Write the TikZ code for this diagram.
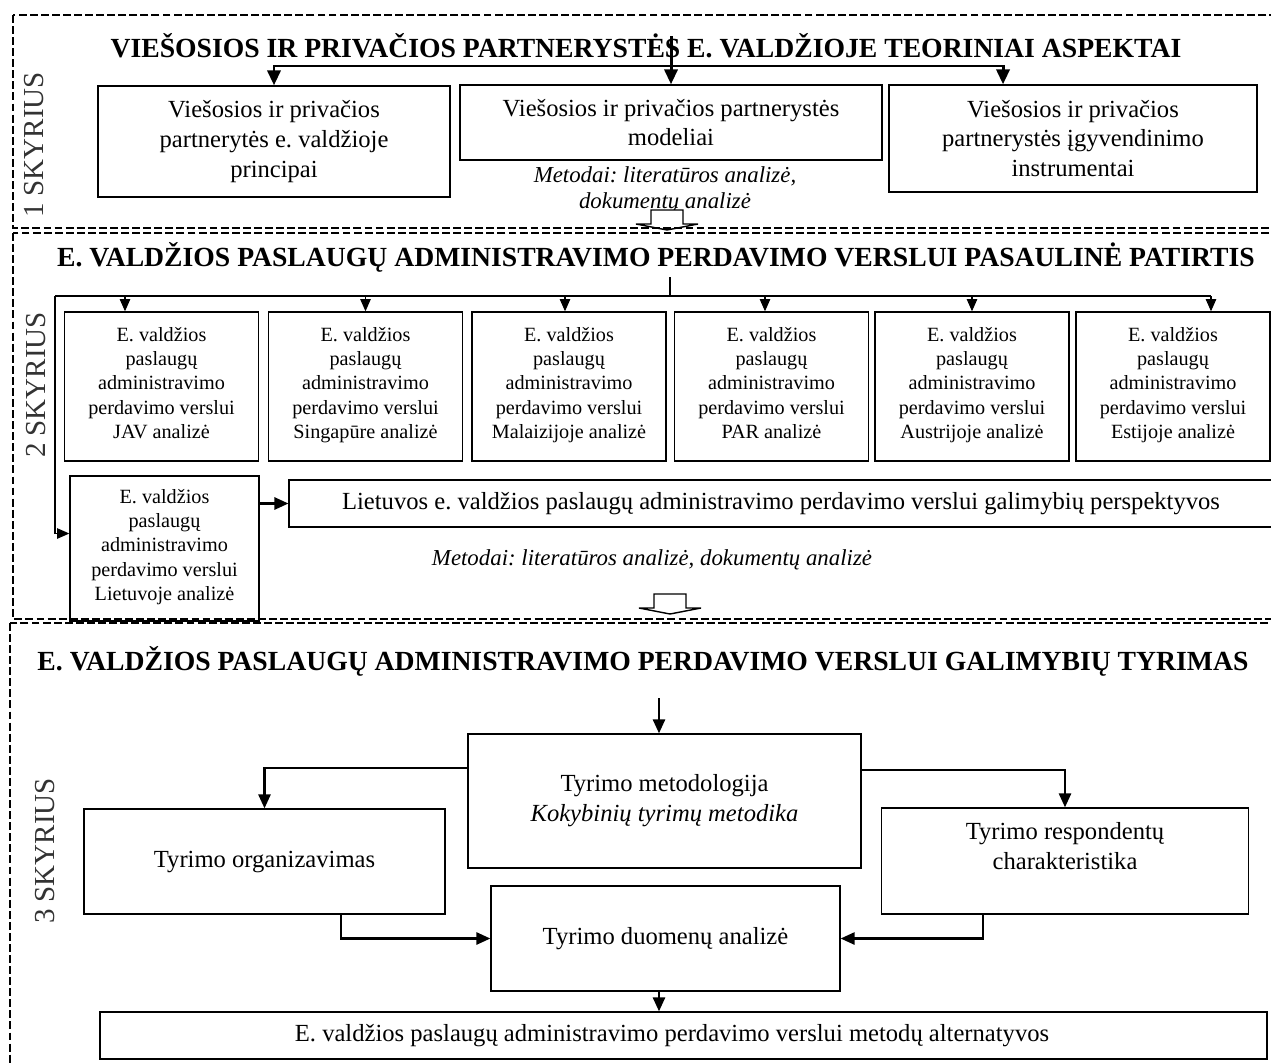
\documentclass[tikz,border=0pt]{standalone}
\usepackage{fontspec}
\setmainfont{Liberation Serif}
\frenchspacing
\usetikzlibrary{arrows.meta,positioning,calc}

\begin{document}
\begin{tikzpicture}[
	x=0.02cm,y=-0.02cm,
	>=Triangle,
	every node/.style={font=\fontsize{14}{17}\selectfont},
	blok/.style={draw, line width=0.8pt, align=center, inner sep=2pt},
	mazas/.style={blok, font=\fontsize{11.5}{13.75}\selectfont, minimum width=3.88cm, minimum height=2.98cm},
	virsus/.style={font=\fontsize{15.75}{19}\selectfont\bfseries},
	skyr/.style={rotate=90, font=\fontsize{16.5}{18}\selectfont, text=black!80},
	metod/.style={align=center, font=\fontsize{13}{15}\selectfont\itshape},
	rem/.style={line width=1pt, dash pattern=on 4.5pt off 1.8pt},
	rod1/.style={line width=1.7pt, -{Triangle[length=8.5pt,width=7.5pt]}},
	rod2/.style={line width=0.6pt, -{Triangle[length=7pt,width=6pt]}},
	rod3/.style={line width=1.2pt, -{Triangle[length=8pt,width=7pt]}}
	]
	\useasboundingbox (0,0) rectangle (1271,1062);
	
	% --------------------------
	% 1 skyrius
	% --------------------------
	\node[virsus] (t1) at (646,46) {VIEŠOSIOS IR PRIVAČIOS PARTNERYSTĖS E. VALDŽIOJE TEORINIAI ASPEKTAI};
	\node[skyr] (s1) at (34,145) {1 SKYRIUS};
	
	\node[blok, minimum width=7.04cm, minimum height=2.22cm] (ta) at (274,141.5) {Viešosios ir privačios\\partnerytės e. valdžioje\\principai};
	\node[blok, minimum width=8.44cm, minimum height=1.5cm] (tb) at (671,122.5) {Viešosios ir privačios partnerystės\\modeliai};
	\node[blok, minimum width=7.36cm, minimum height=2.14cm] (tc) at (1073,138.5) {Viešosios ir privačios\\partnerystės įgyvendinimo\\instrumentai};
	\node[metod] (m1) at (665,190) {Metodai: literatūros analizė,\\dokumentų analizė};
	
	\coordinate (t1o) at (671,36);
	\coordinate (h1) at (671,66);
	\coordinate (tcin) at ([xshift=-1.4cm]tc.north);
	\draw[rod1] (t1o) -- (tb.north);
	\draw[rod1] (h1) -| (ta.north);
	\draw[rod1] (h1) -| (tcin);
	
	% --------------------------
	% 2 skyrius
	% --------------------------
	\node[virsus] (t2) at (656,257) {E. VALDŽIOS PASLAUGŲ ADMINISTRAVIMO PERDAVIMO VERSLUI PASAULINĖ PATIRTIS};
	\node[skyr] (s2) at (36,385) {2 SKYRIUS};
	
	\foreach \i/\cx/\salis in {1/161.5/JAV, 2/365.5/Singapūre, 3/569/Malaizijoje, 4/771.5/PAR, 5/972/Austrijoje, 6/1173/Estijoje}
		\node[mazas] (b\i) at (\cx,386.5) {E. valdžios\\paslaugų\\administravimo\\perdavimo verslui\\\salis{} analizė\strut};
	
	\node[blok, font=\fontsize{11.5}{13.75}\selectfont, minimum width=3.78cm, minimum height=2.9cm] (lt) at (164.5,548.5) {E. valdžios\\paslaugų\\administravimo\\perdavimo verslui\\Lietuvoje analizė\strut};
	\node[blok, minimum width=19.68cm, minimum height=0.94cm] (per) at (781,503.5) {Lietuvos e. valdžios paslaugų administravimo perdavimo verslui galimybių perspektyvos};
	\node[metod] (m2) at (652,560) {Metodai: literatūros analizė, dokumentų analizė};
	
	\coordinate (t2o) at (670,277);
	\coordinate (kair) at (55,296);
	\coordinate (b6in) at ([xshift=0.76cm]b6.north);
	\draw[line width=0.6pt] (t2o) -- (t2o |- kair);
	\draw[line width=0.6pt] (kair) -- (kair -| b6in);
	\foreach \i/\dx in {1/-0.73, 2/0, 3/-0.08, 4/-0.13, 5/0, 6/0.76}
		\draw[rod2] ([xshift=\dx cm]b\i.north |- kair) -- ([xshift=\dx cm]b\i.north);
	\draw[rod2] (kair) |- ([yshift=0.3cm]lt.west);
	\draw[rod3] (lt.east |- per.west) -- (per.west);
	
	% --------------------------
	% 3 skyrius
	% --------------------------
	\node[virsus] (t3) at (643,661) {E. VALDŽIOS PASLAUGŲ ADMINISTRAVIMO PERDAVIMO VERSLUI GALIMYBIŲ TYRIMAS};
	\node[skyr] (s3) at (45,851) {3 SKYRIUS};
	
	\node[blok, minimum width=7.86cm, minimum height=2.68cm] (met) at (664.5,801) {Tyrimo metodologija\\\textit{Kokybinių tyrimų metodika}};
	\node[blok, minimum width=7.22cm, minimum height=2.1cm] (org) at (264.5,861.5) {Tyrimo organizavimas};
	\node[blok, minimum width=7.34cm, minimum height=2.12cm] (res) at (1065,861) {Tyrimo respondentų\\charakteristika\\\mbox{}};
	\node[blok, minimum width=6.98cm, minimum height=2.1cm] (duo) at (665.5,938.5) {Tyrimo duomenų analizė};
	\node[blok, minimum width=23.34cm, minimum height=0.94cm] (alt) at (683.5,1035.5) {E. valdžios paslaugų administravimo perdavimo verslui metodų alternatyvos\hspace*{0.46cm}};
	
	\coordinate (t3o) at (659,698);
	\draw[rod3] (t3o) -- (t3o |- met.north);
	\draw[rod3] ([yshift=0.66cm]met.west) -| (org.north);
	\draw[rod3] ([yshift=0.62cm]met.east) -| (res.north);
	\draw[rod3] ([xshift=1.53cm]org.south) |- (duo.west);
	\draw[rod3] ([xshift=-1.64cm]res.south) |- (duo.east);
	\draw[rod3] ([xshift=-0.13cm]duo.south) -- ([xshift=-0.13cm]duo.south |- alt.north);
	
	% tuscios rodykles tarp skyriu
	\foreach \x/\y in {667/210, 670/594}
		\draw[line width=0.8pt, fill=white] ({\x-16},\y) -- ({\x-16},\y+14) -- ({\x-31},\y+14) -- (\x,\y+20) -- ({\x+31},\y+14) -- ({\x+16},\y+14) -- ({\x+16},\y) -- cycle;
	
	% skyriu remai
	\draw[rem] (13,15) rectangle (1290,228);
	\draw[rem] (13,233) rectangle (1290,619);
	\draw[rem] (10,623) rectangle (1290,1090);
	
\end{tikzpicture}
\end{document}
